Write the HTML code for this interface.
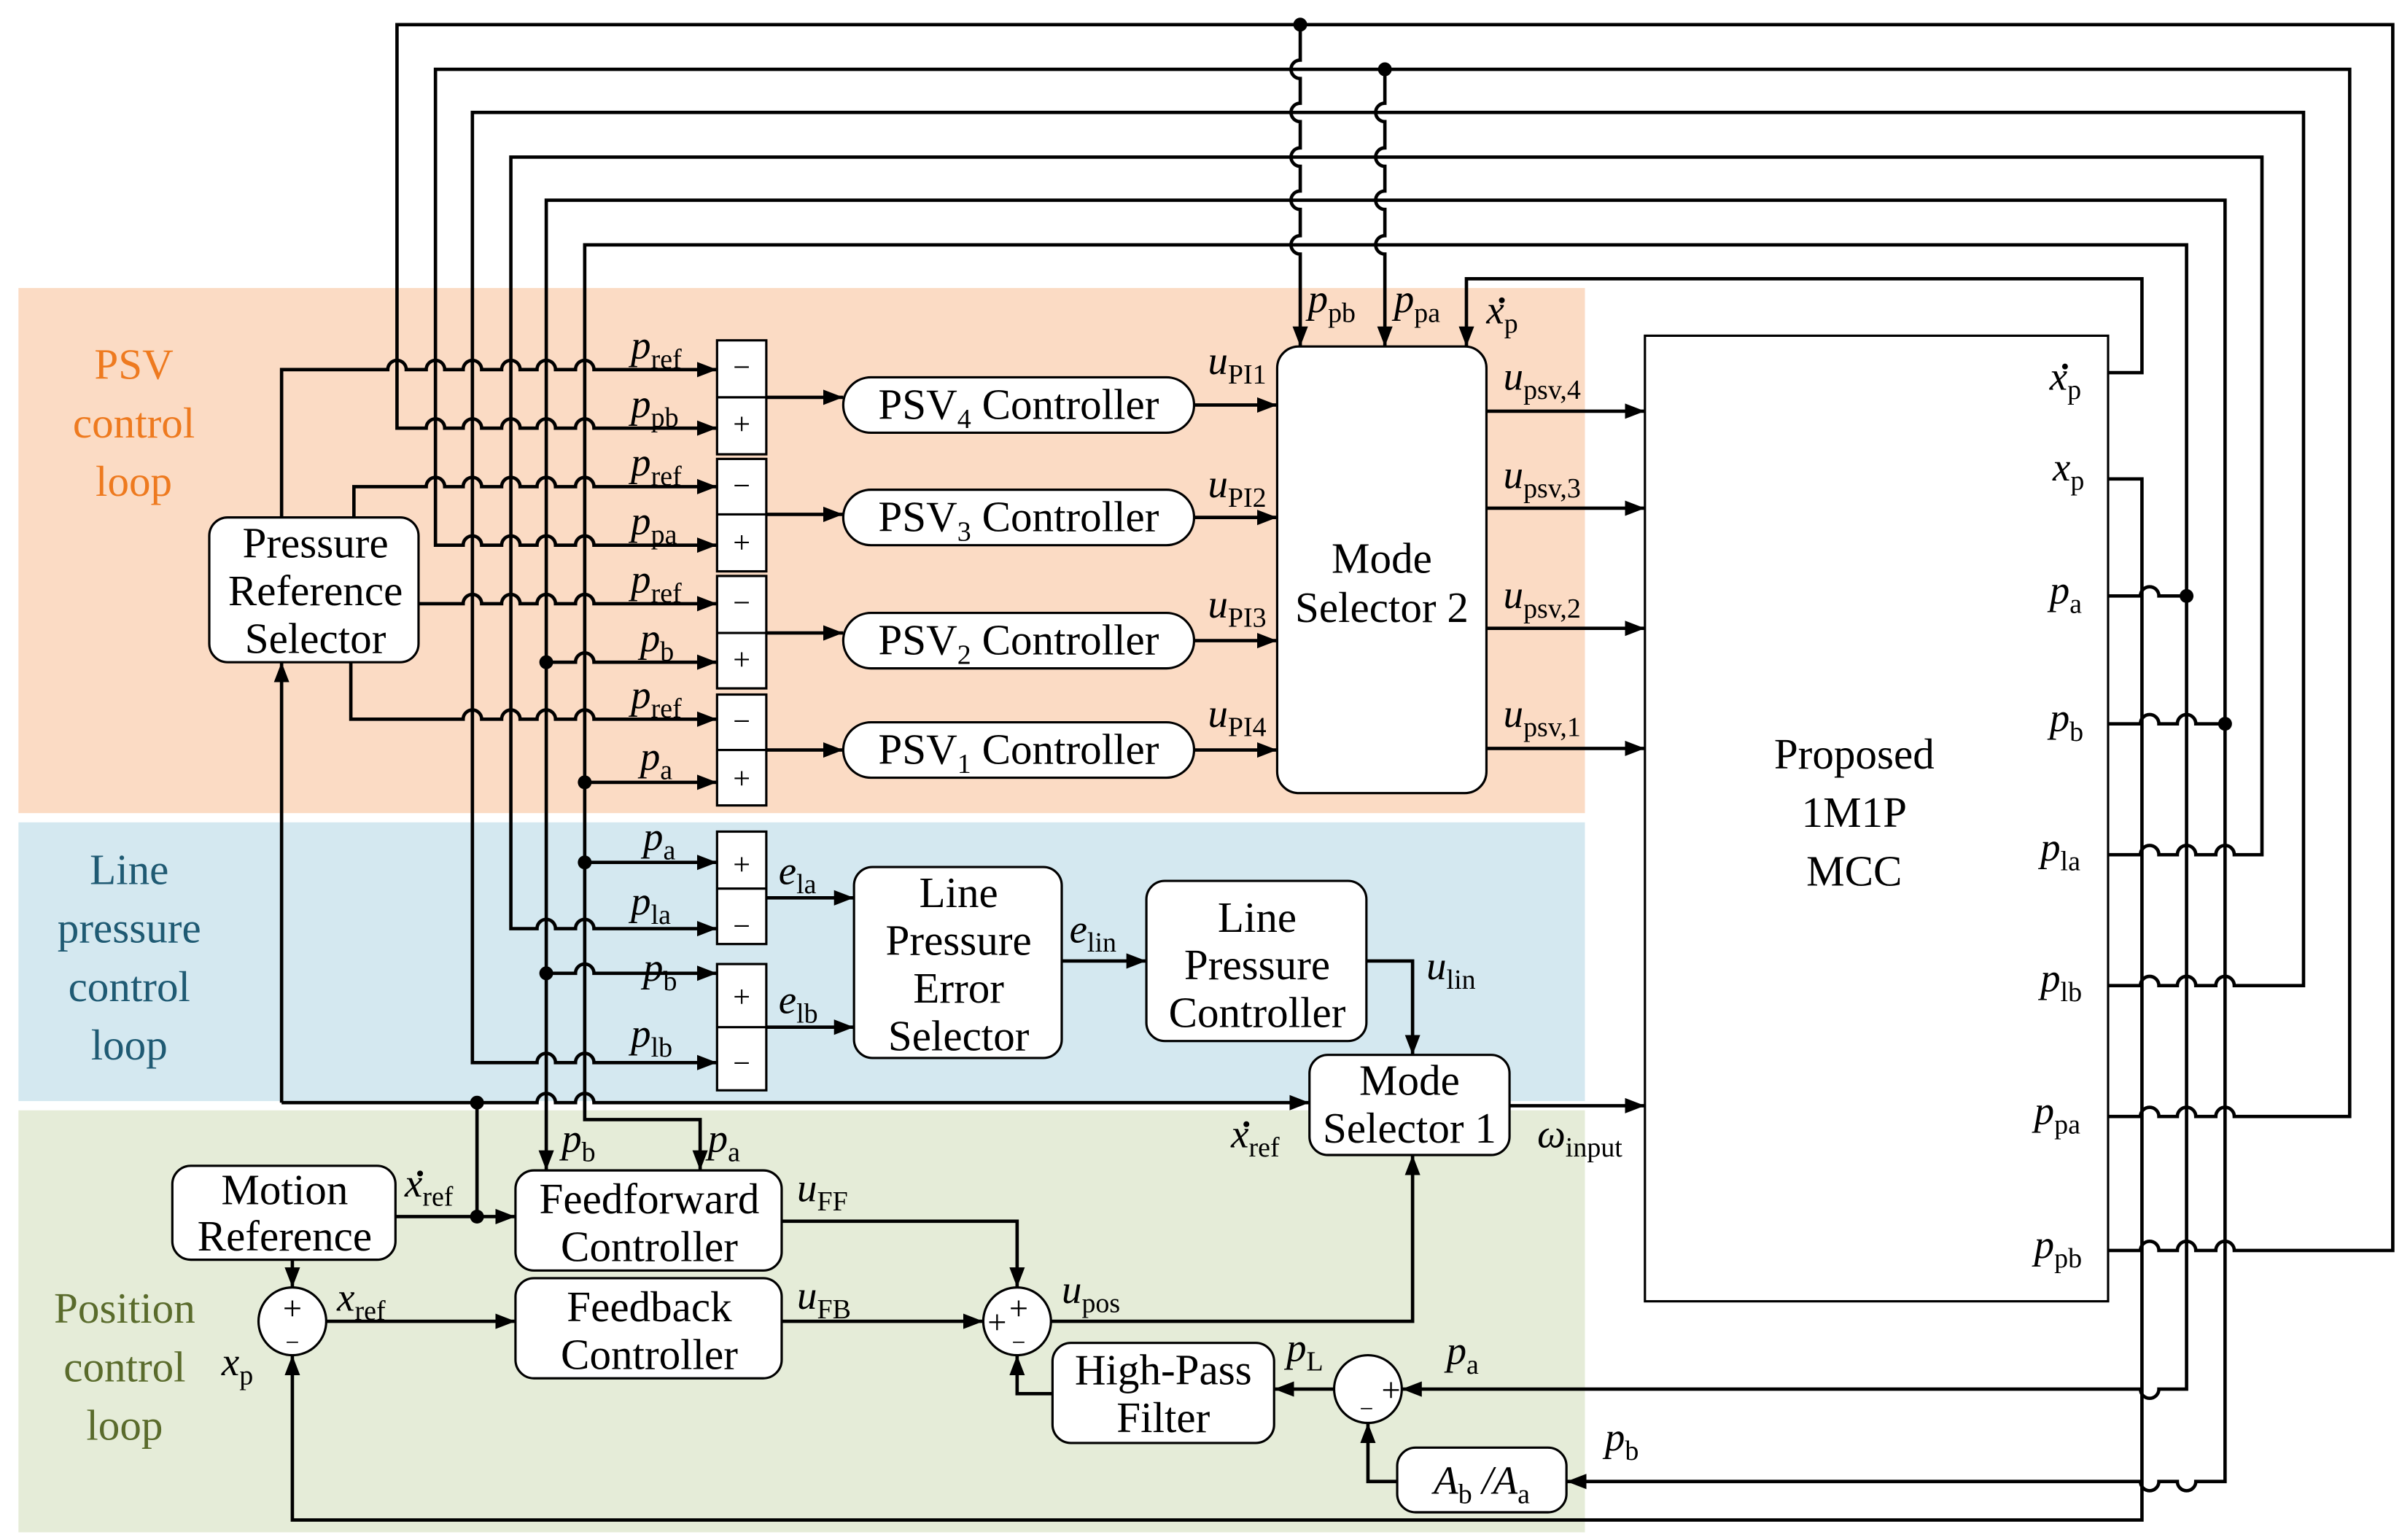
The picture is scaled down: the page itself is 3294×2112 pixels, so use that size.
<!DOCTYPE html>
<html><head><meta charset="utf-8"><style>
html,body{margin:0;padding:0;background:#fff}
svg{display:block}
text{font-family:"Liberation Serif",serif;fill:#000}
.b{font-size:28px}
.v{font-size:26px;font-style:italic}
.s{font-style:normal;font-size:18px}
.sg{font-size:20px}
</style></head><body>
<svg width="3294" height="2112" viewBox="0 0 1561 1000" preserveAspectRatio="none" xmlns="http://www.w3.org/2000/svg">
<defs>
<marker id="a" markerUnits="userSpaceOnUse" markerWidth="14" markerHeight="12" refX="13" refY="6" orient="auto"><path d="M0,1 L13,6 L0,11 Z" fill="#000"/></marker>
</defs>
<rect x="12" y="187" width="1018" height="341" fill="#fbdbc4"/>
<rect x="12" y="534" width="1018" height="181" fill="#d4e8f0"/>
<rect x="12" y="721" width="1018" height="274" fill="#e5ecd8"/>

<g class="b" text-anchor="middle">
<text x="87" y="246" style="fill:#ee7a1f">PSV</text>
<text x="87" y="284" style="fill:#ee7a1f">control</text>
<text x="87" y="322" style="fill:#ee7a1f">loop</text>
<text x="84" y="574" style="fill:#1f5a73">Line</text>
<text x="84" y="612" style="fill:#1f5a73">pressure</text>
<text x="84" y="650" style="fill:#1f5a73">control</text>
<text x="84" y="688" style="fill:#1f5a73">loop</text>
<text x="81" y="859" style="fill:#5a6b2c">Position</text>
<text x="81" y="897" style="fill:#5a6b2c">control</text>
<text x="81" y="935" style="fill:#5a6b2c">loop</text>
</g>

<g fill="#fff" stroke="#000" stroke-width="1.5">
<rect x="136" y="336" width="136" height="94" rx="12"/>
<rect x="466" y="221" width="32" height="74"/><line x1="466" y1="258" x2="498" y2="258"/>
<rect x="466" y="298" width="32" height="73"/><line x1="466" y1="334" x2="498" y2="334"/>
<rect x="466" y="374" width="32" height="73"/><line x1="466" y1="411" x2="498" y2="411"/>
<rect x="466" y="451" width="32" height="72"/><line x1="466" y1="487" x2="498" y2="487"/>
<rect x="548" y="245" width="228" height="36" rx="18"/>
<rect x="548" y="318" width="228" height="36" rx="18"/>
<rect x="548" y="398" width="228" height="36" rx="18"/>
<rect x="548" y="469" width="228" height="36" rx="18"/>
<rect x="830" y="225" width="136" height="290" rx="14"/>
<rect x="1069" y="218" width="301" height="627"/>
<rect x="466" y="540" width="32" height="73"/><line x1="466" y1="577" x2="498" y2="577"/>
<rect x="466" y="626" width="32" height="82"/><line x1="466" y1="667" x2="498" y2="667"/>
<rect x="555" y="563" width="135" height="124" rx="12"/>
<rect x="745" y="572" width="143" height="104" rx="12"/>
<rect x="851" y="685" width="130" height="65" rx="12"/>
<rect x="112" y="757" width="145" height="61" rx="12"/>
<rect x="335" y="760" width="173" height="65" rx="12"/>
<rect x="335" y="830" width="173" height="65" rx="12"/>
<rect x="684" y="872" width="144" height="65" rx="12"/>
<rect x="908" y="940" width="110" height="42" rx="12"/>
<circle cx="190" cy="858" r="22"/>
<circle cx="661" cy="858" r="22"/>
<circle cx="889" cy="902" r="22"/>
</g>

<g class="b" text-anchor="middle">
<text x="205" y="362">Pressure</text><text x="205" y="393">Reference</text><text x="205" y="424">Selector</text>
<text x="662" y="272">PSV<tspan class="s" dy="6">4</tspan><tspan dy="-6"> Controller</tspan></text>
<text x="662" y="345">PSV<tspan class="s" dy="6">3</tspan><tspan dy="-6"> Controller</tspan></text>
<text x="662" y="425">PSV<tspan class="s" dy="6">2</tspan><tspan dy="-6"> Controller</tspan></text>
<text x="662" y="496">PSV<tspan class="s" dy="6">1</tspan><tspan dy="-6"> Controller</tspan></text>
<text x="898" y="372">Mode</text><text x="898" y="404">Selector 2</text>
<text x="1205" y="499">Proposed</text><text x="1205" y="537">1M1P</text><text x="1205" y="575">MCC</text>
<text x="623" y="589">Line</text><text x="623" y="620">Pressure</text><text x="623" y="651">Error</text><text x="623" y="682">Selector</text>
<text x="817" y="605">Line</text><text x="817" y="636">Pressure</text><text x="817" y="667">Controller</text>
<text x="916" y="711">Mode</text><text x="916" y="742">Selector 1</text>
<text x="185" y="782">Motion</text><text x="185" y="812">Reference</text>
<text x="422" y="788">Feedforward</text><text x="422" y="819">Controller</text>
<text x="422" y="858">Feedback</text><text x="422" y="889">Controller</text>
<text x="756" y="899">High-Pass</text><text x="756" y="930">Filter</text>
<text x="963" y="970" class="v">A<tspan class="s" dy="6">b</tspan><tspan dy="-6"> /A</tspan><tspan class="s" dy="6">a</tspan></text>
</g>
<g class="sg" text-anchor="middle">
<text x="482" y="245">−</text><text x="482" y="282">+</text>
<text x="482" y="322">−</text><text x="482" y="359">+</text>
<text x="482" y="398">−</text><text x="482" y="435">+</text>
<text x="482" y="475">−</text><text x="482" y="512">+</text>
<text x="482" y="568">+</text><text x="482" y="608">−</text>
<text x="482" y="654">+</text><text x="482" y="697">−</text>
<text x="190" y="857" font-size="22">+</text><text x="190" y="877" font-size="16">−</text>
<text x="662" y="857" font-size="22">+</text><text x="648" y="866" font-size="22">+</text><text x="662" y="877" font-size="16">−</text>
<text x="904" y="910" font-size="22">+</text><text x="888" y="920" font-size="16">−</text>
</g>

<g fill="none" stroke="#000" stroke-width="2.2">
<path d="M1370 812 H1391 a6 6 0 0 1 12 0 H1415 a6 6 0 0 1 12 0 H1440 a6 6 0 0 1 12 0 H1555 V16 H258 V278 H277 a6 6 0 0 1 12 0 H301 a6 6 0 0 1 12 0 H326 a6 6 0 0 1 12 0 H349 a6 6 0 0 1 12 0 H374 a6 6 0 0 1 12 0 H466" marker-end="url(#a)"/>
<path d="M1370 725 H1391 a6 6 0 0 1 12 0 H1415 a6 6 0 0 1 12 0 H1440 a6 6 0 0 1 12 0 H1527 V45 H283 V354 H301 a6 6 0 0 1 12 0 H326 a6 6 0 0 1 12 0 H349 a6 6 0 0 1 12 0 H374 a6 6 0 0 1 12 0 H466" marker-end="url(#a)"/>
<path d="M1370 640 H1391 a6 6 0 0 1 12 0 H1415 a6 6 0 0 1 12 0 H1440 a6 6 0 0 1 12 0 H1497 V73 H307 V690 H349 a6 6 0 0 1 12 0 H374 a6 6 0 0 1 12 0 H466" marker-end="url(#a)"/>
<path d="M1370 555 H1391 a6 6 0 0 1 12 0 H1415 a6 6 0 0 1 12 0 H1440 a6 6 0 0 1 12 0 H1470 V102 H332 V603 H349 a6 6 0 0 1 12 0 H374 a6 6 0 0 1 12 0 H466" marker-end="url(#a)"/>
<path d="M1370 470 H1391 a6 6 0 0 1 12 0 H1415 a6 6 0 0 1 12 0 H1446 V130 H355 V760" marker-end="url(#a)"/>
<path d="M1446 470 V962 H1427 a6 6 0 0 1 -12 0 H1403 a6 6 0 0 1 -12 0 H1018" marker-end="url(#a)"/>
<path d="M1370 387 H1391 a6 6 0 0 1 12 0 H1421 V159 H380 V727 H455 V760" marker-end="url(#a)"/>
<path d="M1421 387 V902 H1403 a6 6 0 0 1 -12 0 H911" marker-end="url(#a)"/>
<path d="M1370 242 H1392 V181 H953 V225" marker-end="url(#a)"/>
<path d="M1370 311 H1392 V987 H190 V880" marker-end="url(#a)"/>
<path d="M845 16 V39 a6 6 0 0 0 0 12 V67 a6 6 0 0 0 0 12 V96 a6 6 0 0 0 0 12 V124 a6 6 0 0 0 0 12 V153 a6 6 0 0 0 0 12 V225" marker-end="url(#a)"/>
<path d="M900 45 V67 a6 6 0 0 0 0 12 V96 a6 6 0 0 0 0 12 V124 a6 6 0 0 0 0 12 V153 a6 6 0 0 0 0 12 V225" marker-end="url(#a)"/>
<path d="M183 336 V240 H252 a6 6 0 0 1 12 0 H277 a6 6 0 0 1 12 0 H301 a6 6 0 0 1 12 0 H326 a6 6 0 0 1 12 0 H349 a6 6 0 0 1 12 0 H374 a6 6 0 0 1 12 0 H466" marker-end="url(#a)"/>
<path d="M230 336 V316 H277 a6 6 0 0 1 12 0 H301 a6 6 0 0 1 12 0 H326 a6 6 0 0 1 12 0 H349 a6 6 0 0 1 12 0 H374 a6 6 0 0 1 12 0 H466" marker-end="url(#a)"/>
<path d="M272 392 H301 a6 6 0 0 1 12 0 H326 a6 6 0 0 1 12 0 H349 a6 6 0 0 1 12 0 H374 a6 6 0 0 1 12 0 H466" marker-end="url(#a)"/>
<path d="M228 430 V467 H301 a6 6 0 0 1 12 0 H326 a6 6 0 0 1 12 0 H349 a6 6 0 0 1 12 0 H374 a6 6 0 0 1 12 0 H466" marker-end="url(#a)"/>
<path d="M355 430 H374 a6 6 0 0 1 12 0 H466" marker-end="url(#a)"/>
<path d="M380 508 H466" marker-end="url(#a)"/>
<path d="M380 560 H466" marker-end="url(#a)"/>
<path d="M355 632 H374 a6 6 0 0 1 12 0 H466" marker-end="url(#a)"/>
<path d="M498 258 H548" marker-end="url(#a)"/>
<path d="M498 334 H548" marker-end="url(#a)"/>
<path d="M498 411 H548" marker-end="url(#a)"/>
<path d="M498 487 H548" marker-end="url(#a)"/>
<path d="M776 263 H830" marker-end="url(#a)"/>
<path d="M776 336 H830" marker-end="url(#a)"/>
<path d="M776 416 H830" marker-end="url(#a)"/>
<path d="M776 487 H830" marker-end="url(#a)"/>
<path d="M966 267 H1069" marker-end="url(#a)"/>
<path d="M966 330 H1069" marker-end="url(#a)"/>
<path d="M966 408 H1069" marker-end="url(#a)"/>
<path d="M966 486 H1069" marker-end="url(#a)"/>
<path d="M498 583 H555" marker-end="url(#a)"/>
<path d="M498 667 H555" marker-end="url(#a)"/>
<path d="M690 624 H745" marker-end="url(#a)"/>
<path d="M888 624 H918 V685" marker-end="url(#a)"/>
<path d="M981 718 H1069" marker-end="url(#a)"/>
<path d="M183 716 V430" marker-end="url(#a)"/>
<path d="M183 716 H349 a6 6 0 0 1 12 0 H374 a6 6 0 0 1 12 0 H851" marker-end="url(#a)"/>
<path d="M310 716 V790"/>
<path d="M257 790 H335" marker-end="url(#a)"/>
<path d="M190 818 V836" marker-end="url(#a)"/>
<path d="M212 858 H335" marker-end="url(#a)"/>
<path d="M508 858 H639" marker-end="url(#a)"/>
<path d="M508 793 H661 V836" marker-end="url(#a)"/>
<path d="M683 858 H918 V750" marker-end="url(#a)"/>
<path d="M684 905 H661 V880" marker-end="url(#a)"/>
<path d="M867 902 H828" marker-end="url(#a)"/>
<path d="M908 962 H889 V924" marker-end="url(#a)"/>
</g>
<g fill="#000">
<circle cx="845" cy="16" r="4.5"/><circle cx="900" cy="45" r="4.5"/>
<circle cx="1421" cy="387" r="4.5"/><circle cx="1446" cy="470" r="4.5"/>
<circle cx="355" cy="430" r="4.5"/><circle cx="355" cy="632" r="4.5"/>
<circle cx="380" cy="508" r="4.5"/><circle cx="380" cy="560" r="4.5"/>
<circle cx="310" cy="716" r="4.5"/><circle cx="310" cy="790" r="4.5"/>
<circle cx="976" cy="195" r="1.9"/>
<circle cx="1342" cy="238" r="1.9"/>
<circle cx="810" cy="730" r="1.9"/>
<circle cx="273" cy="762" r="1.9"/>
</g>

<g class="v">
<text x="410" y="233">p<tspan class="s" dy="6">ref</tspan></text>
<text x="410" y="271">p<tspan class="s" dy="6">pb</tspan></text>
<text x="410" y="309">p<tspan class="s" dy="6">ref</tspan></text>
<text x="410" y="347">p<tspan class="s" dy="6">pa</tspan></text>
<text x="410" y="385">p<tspan class="s" dy="6">ref</tspan></text>
<text x="416" y="423">p<tspan class="s" dy="6">b</tspan></text>
<text x="410" y="460">p<tspan class="s" dy="6">ref</tspan></text>
<text x="416" y="500">p<tspan class="s" dy="6">a</tspan></text>
<text x="418" y="552">p<tspan class="s" dy="6">a</tspan></text>
<text x="410" y="594">p<tspan class="s" dy="6">la</tspan></text>
<text x="418" y="637">p<tspan class="s" dy="6">b</tspan></text>
<text x="410" y="680">p<tspan class="s" dy="6">lb</tspan></text>
<text x="506" y="574">e<tspan class="s" dy="6">la</tspan></text>
<text x="506" y="658">e<tspan class="s" dy="6">lb</tspan></text>
<text x="695" y="612">e<tspan class="s" dy="6">lin</tspan></text>
<text x="927" y="636">u<tspan class="s" dy="6">lin</tspan></text>
<text x="785" y="243">u<tspan class="s" dy="6">PI1</tspan></text>
<text x="785" y="323">u<tspan class="s" dy="6">PI2</tspan></text>
<text x="785" y="401">u<tspan class="s" dy="6">PI3</tspan></text>
<text x="785" y="472">u<tspan class="s" dy="6">PI4</tspan></text>
<text x="977" y="253">u<tspan class="s" dy="6">psv,4</tspan></text>
<text x="977" y="317">u<tspan class="s" dy="6">psv,3</tspan></text>
<text x="977" y="395">u<tspan class="s" dy="6">psv,2</tspan></text>
<text x="977" y="472">u<tspan class="s" dy="6">psv,1</tspan></text>
<text x="850" y="203">p<tspan class="s" dy="6">pb</tspan></text>
<text x="906" y="203">p<tspan class="s" dy="6">pa</tspan></text>
<text x="966" y="210">x<tspan class="s" dy="6">p</tspan></text>
<text x="1332" y="253">x<tspan class="s" dy="6">p</tspan></text>
<text x="1334" y="312">x<tspan class="s" dy="6">p</tspan></text>
<text x="1332" y="392">p<tspan class="s" dy="6">a</tspan></text>
<text x="1332" y="475">p<tspan class="s" dy="6">b</tspan></text>
<text x="1326" y="559">p<tspan class="s" dy="6">la</tspan></text>
<text x="1326" y="644">p<tspan class="s" dy="6">lb</tspan></text>
<text x="1322" y="730">p<tspan class="s" dy="6">pa</tspan></text>
<text x="1322" y="817">p<tspan class="s" dy="6">pb</tspan></text>
<text x="999" y="745">ω<tspan class="s" dy="6">input</tspan></text>
<text x="800" y="745">x<tspan class="s" dy="6">ref</tspan></text>
<text x="263" y="777">x<tspan class="s" dy="6">ref</tspan></text>
<text x="219" y="851">x<tspan class="s" dy="6">ref</tspan></text>
<text x="144" y="893">x<tspan class="s" dy="6">p</tspan></text>
<text x="365" y="748">p<tspan class="s" dy="6">b</tspan></text>
<text x="460" y="748">p<tspan class="s" dy="6">a</tspan></text>
<text x="518" y="780">u<tspan class="s" dy="6">FF</tspan></text>
<text x="518" y="850">u<tspan class="s" dy="6">FB</tspan></text>
<text x="690" y="846">u<tspan class="s" dy="6">pos</tspan></text>
<text x="836" y="884">p<tspan class="s" dy="6">L</tspan></text>
<text x="940" y="886">p<tspan class="s" dy="6">a</tspan></text>
<text x="1043" y="942">p<tspan class="s" dy="6">b</tspan></text>
</g>
</svg>
</body></html>
